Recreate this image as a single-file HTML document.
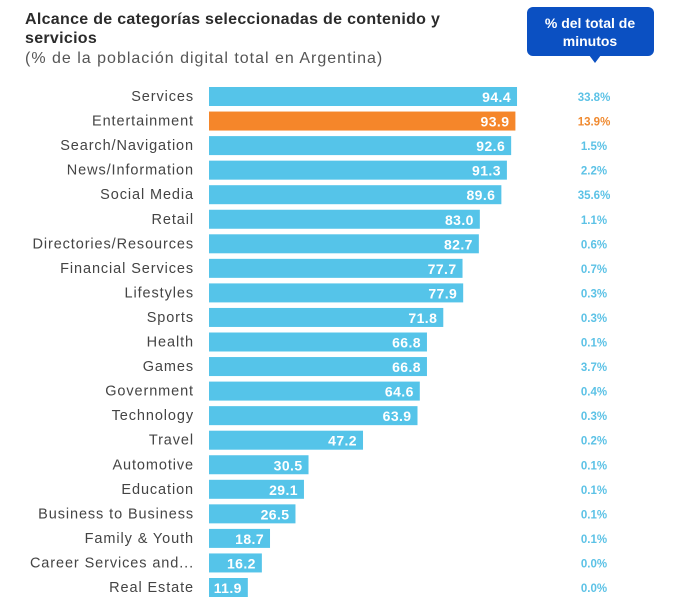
<!DOCTYPE html>
<html><head><meta charset="utf-8">
<style>
html,body{margin:0;padding:0;background:#fff;width:696px;height:612px;overflow:hidden;font-family:"Liberation Sans",sans-serif}
</style></head><body>
<svg id="chart" width="696" height="612" xmlns="http://www.w3.org/2000/svg">
<text x="25" y="24" font-size="16" font-weight="bold" fill="#2b2b2b" letter-spacing="0.3">Alcance de categorías seleccionadas de contenido y</text>
<text x="25" y="43" font-size="16" font-weight="bold" fill="#2b2b2b" letter-spacing="0.3">servicios</text>
<text x="25" y="63" font-size="16" fill="#555" letter-spacing="1">(% de la población digital total en Argentina)</text>
<g>
<rect x="527" y="7" width="127" height="49" rx="6" fill="#0b50c2"/>
<polygon points="589,55 601,55 595,63" fill="#0b50c2"/>
<text x="590" y="28" text-anchor="middle" font-size="14" font-weight="bold" fill="#fff">% del total de</text>
<text x="590" y="46" text-anchor="middle" font-size="14" font-weight="bold" fill="#fff">minutos</text>
</g>
<g id="bars"></g>
</svg>
<script>
const categories=["Services","Entertainment","Search/Navigation","News/Information","Social Media","Retail","Directories/Resources","Financial Services","Lifestyles","Sports","Health","Games","Government","Technology","Travel","Automotive","Education","Business to Business","Family & Youth","Career Services and...","Real Estate"];
const reach=[94.4,93.9,92.6,91.3,89.6,83.0,82.7,77.7,77.9,71.8,66.8,66.8,64.6,63.9,47.2,30.5,29.1,26.5,18.7,16.2,11.9];
const minutesShare=["33.8%","13.9%","1.5%","2.2%","35.6%","1.1%","0.6%","0.7%","0.3%","0.3%","0.1%","3.7%","0.4%","0.3%","0.2%","0.1%","0.1%","0.1%","0.1%","0.0%","0.0%"];
const highlightIndex=1;
const NS="http://www.w3.org/2000/svg";
const x0=209, pxPer=3.263, y0=87, step=24.55, bh=19;
function xs(v){return x0+v*pxPer;}
function ys(i){return y0+i*step;}
const g=document.getElementById('bars');
function mk(tag,attrs,txt){const e=document.createElementNS(NS,tag);for(const k in attrs)e.setAttribute(k,attrs[k]);if(txt!=null)e.textContent=txt;g.appendChild(e);return e;}
categories.forEach((c,i)=>{
  const hl=i===highlightIndex;
  const y=ys(i);
  const lab=mk('text',{x:194,y:y+14,'text-anchor':'end','font-size':14.5,'letter-spacing':0.9,fill:'#444'},c);
  
  
  const r=mk('rect',{x:x0,y:y,width:xs(reach[i])-x0,height:bh,fill:hl?'#f5862a':'#55c4e9'});
  
  
  const v=mk('text',{x:xs(reach[i])-6,y:y+15,'text-anchor':'end','font-size':14,'font-weight':'bold','letter-spacing':0.4,fill:'#fff'},reach[i].toFixed(1));
  
  
  const m=mk('text',{x:594,y:y+14,'text-anchor':'middle','font-size':11.5,'font-weight':'bold',fill:hl?'#f08a30':'#5cc2e6'},minutesShare[i]);
  
  
});
</script>
</body></html>
